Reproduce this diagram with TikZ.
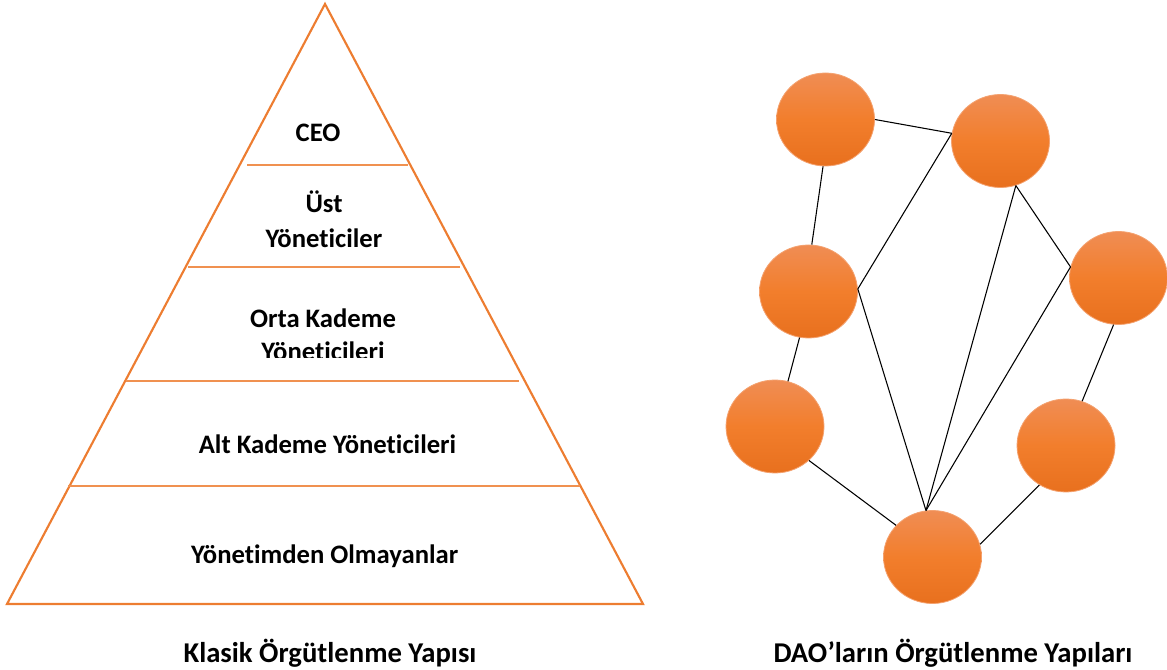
\documentclass[tikz,border=0pt]{standalone}
\usepackage{fontspec}
\setmainfont{Carlito}[Ligatures=NoCommon]
\usetikzlibrary{shapes.geometric}
\definecolor{pyrorange}{HTML}{ED7D31}
\definecolor{daotop}{RGB}{240,141,84}
\definecolor{daomid}{RGB}{242,126,44}
\definecolor{daobot}{RGB}{232,112,30}
\definecolor{daorim}{RGB}{244,162,112}

\begin{document}
\begin{tikzpicture}[x=0.75pt, y=-0.75pt, font=\bfseries\fontsize{20}{27}\selectfont,
  dao/.style={ellipse, minimum width=73.5pt, minimum height=69.75pt, inner sep=0pt,
    draw=daorim, line width=0.6pt, top color=daotop, bottom color=daobot, middle color=daomid},
  link/.style={line width=0.8pt, black},
  layer/.style={pyrorange!85, line width=1pt},
  caption/.style={anchor=base, font=\bfseries\fontsize{21.5}{26}\selectfont}]
\useasboundingbox (0,0) rectangle (1167,670);

% klasik piramit
\draw[pyrorange, line width=1.6pt, line join=miter] (325,4) -- (643,604) -- (7,604) -- cycle;
\foreach \y/\xa/\xb in {165/247/408, 267/188/460, 381/126/519, 486/68/580}{
  \draw[layer] (\xa,\y) -- (\xb,\y);
}
\node[anchor=base] (ceo) at (318,142) {CEO};
\node[anchor=base, align=center] (ust) at (324,248) {Üst\\Yöneticiler};
\begin{scope}
  \clip (100,290) rectangle (560,357);
  \node[anchor=base, align=center] (orta) at (323,360) {Orta Kademe\\[-2.25pt]Yöneticileri};
\end{scope}
\node[anchor=base] (alt) at (327.5,453) {Alt Kademe Yöneticileri};
\node[anchor=base] (yonetim) at (324.7,563) {Yönetimden Olmayanlar};

% DAO agi
\foreach \n/\x/\y in {c1/825.5/119.5, c2/1000.5/141, c3/808.5/291.5, c4/1118.5/278,
    c5/775/426.5, c6/1066/445.5, c7/932.5/557}{
  \node[dao] (\n) at (\x,\y) {};
}
\foreach \a/\b in {c1.east/c2.171, c1.-93/c3.86, c2.171/c3.3, c2.-71/c7.98,
    c2.-71/c4.167, c4.167/c7.98, c3.3/c7.98, c4.-96/c6.70, c3.-101/c5.74,
    c5.-45/c7.139, c6.-124/c7.15}{
  \draw[link] (\a) -- (\b);
}

% basliklar
\node[caption] (klasik) at (330,662) {Klasik Örgütlenme Yapısı};
\node[caption] (dao) at (953,662) {DAO’ların Örgütlenme Yapıları};
\end{tikzpicture}
\end{document}
